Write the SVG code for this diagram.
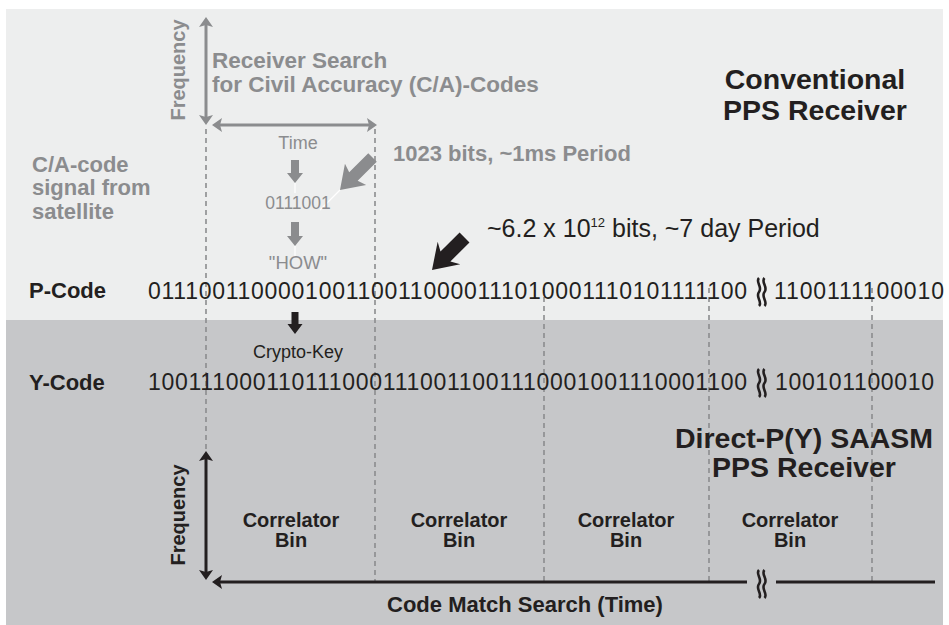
<svg xmlns="http://www.w3.org/2000/svg" width="949" height="625" viewBox="0 0 949 625">
<style>
text{font-family:"Liberation Sans",Arial,Helvetica,sans-serif}
.g{fill:#8b8c8e}
.k{fill:#231f20}
.b{font-weight:bold}
.dash{stroke:#8b8c8e;stroke-width:1.6;stroke-dasharray:5 4;fill:none}
.ga{stroke:#8b8c8e;stroke-width:3;fill:none}
.ka{stroke:#231f20;stroke-width:3;fill:none}
.wl{stroke:#ffffff;stroke-width:1.2;fill:none}
.brk{stroke:#231f20;stroke-width:2.6;fill:none}
</style>
<defs>
<marker id="ag" viewBox="0 0 10 14" refX="4" refY="7" markerWidth="10" markerHeight="14" markerUnits="userSpaceOnUse" orient="auto-start-reverse"><path d="M0,0 L10,7 L0,14 L2,7 Z" fill="#8b8c8e"/></marker>
<marker id="ak" viewBox="0 0 10 14" refX="4" refY="7" markerWidth="10" markerHeight="14" markerUnits="userSpaceOnUse" orient="auto-start-reverse"><path d="M0,0 L10,7 L0,14 L2,7 Z" fill="#231f20"/></marker>
<g id="brkmark"><path class="brk" d="M0,0 C-4,4 4,9 0,14 C-4,19 4,24 0,28"/><path class="brk" d="M5.5,0 C1.5,4 9.5,9 5.5,14 C1.5,19 9.5,24 5.5,28"/></g>
</defs>
<rect x="6" y="9" width="937" height="311" fill="#edeeee"/>
<rect x="6" y="320" width="937" height="305" fill="#c6c7c9"/>
<g id="connectors">
<line class="dash" x1="206" y1="129" x2="206" y2="449"/>
<line class="dash" x1="375" y1="129" x2="375" y2="582"/>
<line class="dash" x1="544" y1="288" x2="544" y2="582"/>
<line class="dash" x1="709" y1="288" x2="709" y2="582"/>
<line class="dash" x1="872" y1="288" x2="872" y2="582"/>
<line class="ga" x1="206" y1="23" x2="206" y2="119" marker-start="url(#ag)" marker-end="url(#ag)"/>
<line class="ga" x1="218" y1="125" x2="371" y2="125" marker-start="url(#ag)" marker-end="url(#ag)"/>
<path d="M291,160 H299 V173 H303 L295,183 L287,173 H291 Z" fill="#8b8c8e"/>
<line class="wl" x1="295" y1="183" x2="295" y2="193"/>
<path d="M291,222 H299 V236 H303 L295,246 L287,236 H291 Z" fill="#8b8c8e"/>
<line class="wl" x1="295" y1="246" x2="295" y2="257"/>
<path d="M0,0 L-22,-15 L-19,-6 L-46,-6 L-46,6 L-19,6 L-22,15 Z" fill="#8b8c8e" transform="translate(340,190) rotate(135)"/>
<line class="wl" x1="340" y1="190" x2="320" y2="210"/>
<path d="M0,0 L-24,-16 L-19,-7 L-46,-7 L-46,7 L-19,7 L-24,16 Z" fill="#231f20" transform="translate(432,270) rotate(135)"/>
<path d="M291.5,312 H298.5 V324 H302.5 L295,334 L287.5,324 H291.5 Z" fill="#231f20"/>
<line class="ka" x1="206" y1="457" x2="206" y2="574" marker-start="url(#ak)" marker-end="url(#ak)"/>
<line class="ka" x1="218" y1="582" x2="747" y2="582" marker-start="url(#ak)"/>
<line class="ka" x1="776" y1="582" x2="935" y2="582"/>
<use href="#brkmark" x="759" y="570"/>
</g>
<g id="top-search">
<text class="g b" font-size="20" text-anchor="middle" transform="translate(185,70) rotate(-90)">Frequency</text>
<text class="g b" font-size="22.5" x="212" y="68">Receiver Search</text>
<text class="g b" font-size="22.5" x="212" y="92">for Civil Accuracy (C/A)-Codes</text>
<text class="g" font-size="18" x="298" y="149" text-anchor="middle">Time</text>
<text class="g" font-size="17.5" x="298" y="209" text-anchor="middle">0111001</text>
<text class="g" font-size="18.5" x="298" y="269" text-anchor="middle">"HOW"</text>
</g>
<g id="ca-signal">
<text class="g b" font-size="22" x="32" y="172">C/A-code</text>
<text class="g b" font-size="22" x="32" y="195">signal from</text>
<text class="g b" font-size="22" x="32" y="219">satellite</text>
</g>
<g id="ca-period"><text class="g b" font-size="22" x="393" y="161">1023 bits, ~1ms Period</text></g>
<g id="conventional">
<text class="k b" font-size="28.5" x="815" y="89" text-anchor="middle">Conventional</text>
<text class="k b" font-size="28.5" x="815" y="120" text-anchor="middle">PPS Receiver</text>
</g>
<g id="p-period"><text class="k" font-size="25" x="487" y="237">~6.2 x 10<tspan font-size="13" dy="-10">12</tspan><tspan dy="10"> bits, ~7 day Period</tspan></text></g>
<g id="p-code">
<text class="k b" font-size="22" x="29" y="298">P-Code</text>
<text class="k" font-size="23" x="148" y="299" textLength="599" lengthAdjust="spacing">0111001100001001100110000111010001110101111100</text>
<use href="#brkmark" x="759" y="278"/>
<text class="k" font-size="23" x="774" y="299" textLength="170" lengthAdjust="spacing">1100111100010</text>
</g>
<g id="crypto"><text class="k" font-size="18" x="298" y="358" text-anchor="middle">Crypto-Key</text></g>
<g id="y-code">
<text class="k b" font-size="22" x="29" y="390">Y-Code</text>
<text class="k" font-size="23" x="148" y="390" textLength="599" lengthAdjust="spacing">1001110001101110001110011001110001001110001100</text>
<use href="#brkmark" x="759" y="369"/>
<text class="k" font-size="23" x="775" y="390" textLength="159" lengthAdjust="spacing">100101100010</text>
</g>
<g id="saasm">
<text class="k b" font-size="28.5" x="804" y="448" text-anchor="middle">Direct-P(Y) SAASM</text>
<text class="k b" font-size="28.5" x="804" y="477" text-anchor="middle">PPS Receiver</text>
</g>
<g id="bins">
<text class="k b" font-size="20" text-anchor="middle" transform="translate(185,515) rotate(-90)">Frequency</text>
<text class="k b" font-size="20" x="291" y="527" text-anchor="middle">Correlator</text>
<text class="k b" font-size="20" x="291" y="547" text-anchor="middle">Bin</text>
<text class="k b" font-size="20" x="459" y="527" text-anchor="middle">Correlator</text>
<text class="k b" font-size="20" x="459" y="547" text-anchor="middle">Bin</text>
<text class="k b" font-size="20" x="626" y="527" text-anchor="middle">Correlator</text>
<text class="k b" font-size="20" x="626" y="547" text-anchor="middle">Bin</text>
<text class="k b" font-size="20" x="790" y="527" text-anchor="middle">Correlator</text>
<text class="k b" font-size="20" x="790" y="547" text-anchor="middle">Bin</text>
<text class="k b" font-size="22" x="525" y="612" text-anchor="middle">Code Match Search (Time)</text>
</g>
</svg>
